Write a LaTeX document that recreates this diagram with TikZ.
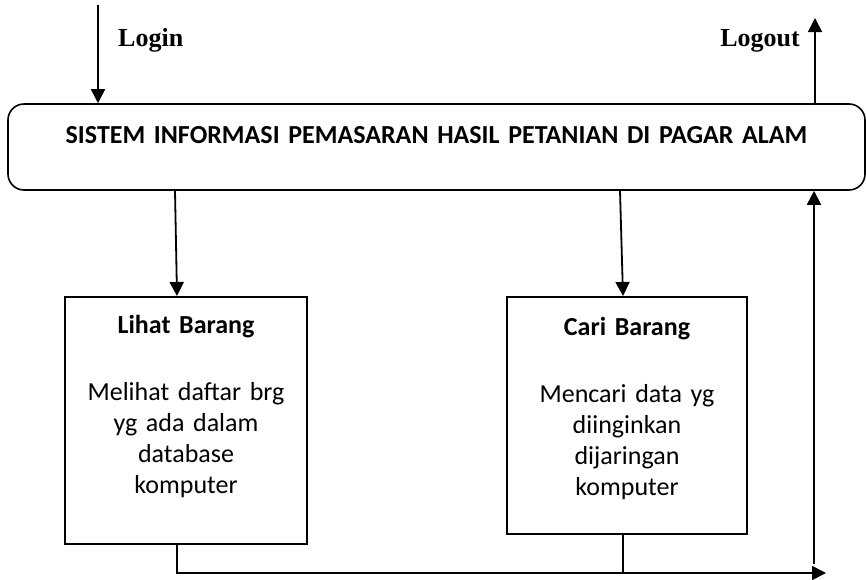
\documentclass[tikz,border=0pt]{standalone}
\usepackage{fontspec}
\setmainfont{Carlito}
\newfontfamily\labelfont{Liberation Serif}
\usetikzlibrary{arrows.meta, positioning}

\tikzset{
  procbox/.style={draw, rectangle, line width=1.6pt, inner sep=0pt, align=center,
    font=\fontsize{26}{31}\selectfont},
  flow/.style={line width=1.8pt, -{Triangle[length=14pt,width=14pt]}},
  plainline/.style={line width=1.5pt},
  flowlabel/.style={font=\labelfont\bfseries\fontsize{26}{31}\selectfont, inner sep=0pt}
}

\begin{document}
\begin{tikzpicture}[x=1pt, y=-1pt] % one unit per pixel of the layout, y runs down the page
  \useasboundingbox (0,0) rectangle (866,579);

  \node[procbox, rounded corners=16pt, text width=857pt, text height=39pt, text depth=47pt,
    font=\bfseries\fontsize{26}{31}\selectfont] (sistem) at (436.5,147)
    {SISTEM INFORMASI PEMASARAN HASIL PETANIAN DI PAGAR ALAM};

  \node[procbox, text width=242pt, text height=37pt, text depth=210pt, anchor=north] (lihat) at (186,296)
    {\textbf{Lihat Barang}\\[36pt]Melihat daftar brg\\yg ada dalam\\database\\komputer};
  \node[procbox, text width=240pt, text height=39pt, text depth=198pt, anchor=north] (cari) at (627,296)
    {\textbf{Cari Barang}\\[36pt]Mencari data yg\\diinginkan\\dijaringan\\komputer};

  \node[flowlabel, anchor=base west] (loginlbl) at (118,46) {Login};
  \node[flowlabel, anchor=base east] (logoutlbl) at (800,46) {Logout};

  \coordinate (loginsrc) at (98,5);
  \coordinate (logoutdst) at (815,18);
  \coordinate (busend) at (826,573);
  \coordinate (returnfoot) at (814,564);

  \draw[flow] (loginsrc) -- (loginsrc |- sistem.north);
  \draw[flow] (logoutdst |- sistem.north) -- (logoutdst);
  \draw[flow] ([xshift=-11pt]sistem.south -| lihat.north) -- ([xshift=-9pt]lihat.north);
  \draw[flow] ([xshift=-7pt]sistem.south -| cari.north) -- ([xshift=-4pt]cari.north);
  \draw[flow] ([xshift=-9pt]lihat.south) |- (busend);
  \draw[plainline] ([xshift=-4pt]cari.south) -- ([xshift=-4pt]cari.south |- busend);
  \draw[flow] (returnfoot) -- (returnfoot |- sistem.south);
\end{tikzpicture}
\end{document}
